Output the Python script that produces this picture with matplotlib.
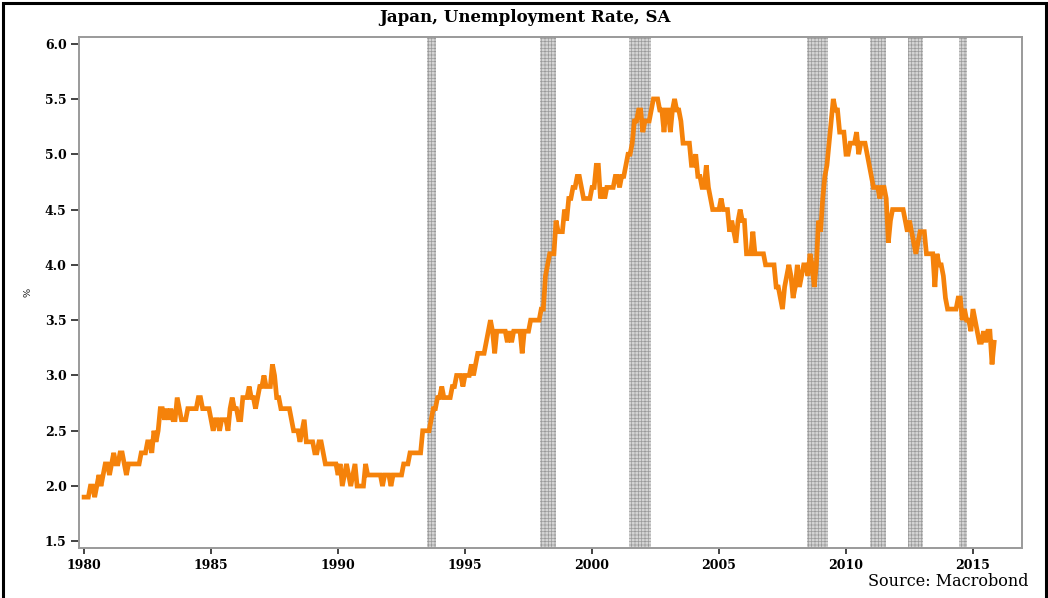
import numpy as np
import matplotlib
matplotlib.use("Agg")
import matplotlib.pyplot as plt
from matplotlib.patches import Rectangle

# ---------------- data (monthly, SA, %) ----------------
start_year = 1980
rate_1980 = [1.9, 1.9, 1.9, 2.0, 2.0, 1.9, 2.0, 2.1, 2.0, 2.1, 2.2, 2.2]
rate_1981 = [2.1, 2.2, 2.3, 2.2, 2.2, 2.3, 2.3, 2.2, 2.1, 2.2, 2.2, 2.2]
rate_1982 = [2.2, 2.2, 2.2, 2.3, 2.3, 2.3, 2.4, 2.4, 2.3, 2.5, 2.4, 2.5]
rate_1983 = [2.7, 2.7, 2.6, 2.7, 2.6, 2.7, 2.6, 2.6, 2.8, 2.7, 2.6, 2.6]
rate_1984 = [2.6, 2.7, 2.7, 2.7, 2.7, 2.7, 2.8, 2.8, 2.7, 2.7, 2.7, 2.7]
rate_1985 = [2.6, 2.5, 2.6, 2.6, 2.5, 2.6, 2.6, 2.6, 2.5, 2.7, 2.8, 2.7]
rate_1986 = [2.7, 2.6, 2.6, 2.8, 2.8, 2.8, 2.9, 2.8, 2.8, 2.7, 2.8, 2.9]
rate_1987 = [2.9, 3.0, 2.9, 2.9, 2.9, 3.1, 3.0, 2.8, 2.8, 2.7, 2.7, 2.7]
rate_1988 = [2.7, 2.7, 2.6, 2.5, 2.5, 2.5, 2.4, 2.5, 2.6, 2.4, 2.4, 2.4]
rate_1989 = [2.4, 2.3, 2.3, 2.4, 2.4, 2.3, 2.2, 2.2, 2.2, 2.2, 2.2, 2.2]
rate_1990 = [2.1, 2.2, 2.0, 2.1, 2.2, 2.1, 2.0, 2.1, 2.2, 2.0, 2.0, 2.0]
rate_1991 = [2.0, 2.2, 2.1, 2.1, 2.1, 2.1, 2.1, 2.1, 2.1, 2.0, 2.1, 2.1]
rate_1992 = [2.1, 2.0, 2.1, 2.1, 2.1, 2.1, 2.1, 2.2, 2.2, 2.2, 2.3, 2.3]
rate_1993 = [2.3, 2.3, 2.3, 2.3, 2.5, 2.5, 2.5, 2.5, 2.6, 2.7, 2.7, 2.8]
rate_1994 = [2.8, 2.9, 2.8, 2.8, 2.8, 2.8, 2.9, 2.9, 3.0, 3.0, 3.0, 2.9]
rate_1995 = [3.0, 3.0, 3.0, 3.1, 3.0, 3.1, 3.2, 3.2, 3.2, 3.2, 3.3, 3.4]
rate_1996 = [3.5, 3.4, 3.2, 3.4, 3.4, 3.4, 3.4, 3.4, 3.3, 3.4, 3.3, 3.4]
rate_1997 = [3.4, 3.4, 3.4, 3.2, 3.4, 3.4, 3.4, 3.5, 3.5, 3.5, 3.5, 3.5]
rate_1998 = [3.6, 3.6, 3.9, 4.0, 4.1, 4.1, 4.1, 4.4, 4.3, 4.3, 4.3, 4.5]
rate_1999 = [4.4, 4.6, 4.6, 4.7, 4.7, 4.8, 4.8, 4.7, 4.6, 4.6, 4.6, 4.6]
rate_2000 = [4.7, 4.7, 4.9, 4.9, 4.6, 4.7, 4.6, 4.7, 4.7, 4.7, 4.7, 4.8]
rate_2001 = [4.8, 4.7, 4.8, 4.8, 4.9, 5.0, 5.0, 5.1, 5.3, 5.3, 5.4, 5.4]
rate_2002 = [5.2, 5.3, 5.3, 5.3, 5.4, 5.5, 5.5, 5.5, 5.4, 5.4, 5.2, 5.4]
rate_2003 = [5.4, 5.2, 5.4, 5.5, 5.4, 5.4, 5.3, 5.1, 5.1, 5.1, 5.1, 4.9]
rate_2004 = [4.9, 5.0, 4.8, 4.8, 4.7, 4.7, 4.9, 4.7, 4.6, 4.5, 4.5, 4.5]
rate_2005 = [4.5, 4.6, 4.5, 4.5, 4.5, 4.3, 4.4, 4.3, 4.2, 4.4, 4.5, 4.4]
rate_2006 = [4.4, 4.1, 4.1, 4.1, 4.3, 4.1, 4.1, 4.1, 4.1, 4.1, 4.0, 4.0]
rate_2007 = [4.0, 4.0, 4.0, 3.8, 3.8, 3.7, 3.6, 3.8, 3.9, 4.0, 3.9, 3.7]
rate_2008 = [3.8, 4.0, 3.8, 3.9, 4.0, 4.0, 3.9, 4.1, 4.0, 3.8, 4.0, 4.4]
rate_2009 = [4.3, 4.6, 4.8, 4.9, 5.1, 5.3, 5.5, 5.4, 5.4, 5.2, 5.2, 5.2]
rate_2010 = [5.0, 5.0, 5.1, 5.1, 5.1, 5.2, 5.0, 5.1, 5.1, 5.1, 5.0, 4.9]
rate_2011 = [4.8, 4.7, 4.7, 4.7, 4.6, 4.7, 4.7, 4.6, 4.2, 4.4, 4.5, 4.5]
rate_2012 = [4.5, 4.5, 4.5, 4.5, 4.4, 4.3, 4.4, 4.3, 4.2, 4.1, 4.2, 4.3]
rate_2013 = [4.3, 4.3, 4.1, 4.1, 4.1, 4.1, 3.8, 4.1, 4.0, 4.0, 3.9, 3.7]
rate_2014 = [3.6, 3.6, 3.6, 3.6, 3.6, 3.7, 3.7, 3.5, 3.6, 3.5, 3.5, 3.4]
rate_2015 = [3.6, 3.5, 3.4, 3.3, 3.3, 3.4, 3.3, 3.4, 3.4, 3.1, 3.3]

rates = (rate_1980 + rate_1981 + rate_1982 + rate_1983 + rate_1984 + rate_1985 +
         rate_1986 + rate_1987 + rate_1988 + rate_1989 + rate_1990 + rate_1991 +
         rate_1992 + rate_1993 + rate_1994 + rate_1995 + rate_1996 + rate_1997 +
         rate_1998 + rate_1999 + rate_2000 + rate_2001 + rate_2002 + rate_2003 +
         rate_2004 + rate_2005 + rate_2006 + rate_2007 + rate_2008 + rate_2009 +
         rate_2010 + rate_2011 + rate_2012 + rate_2013 + rate_2014 + rate_2015)

# recession periods (fractional years)
recession_start = [1993.50, 1997.95, 2001.46, 2008.46, 2010.94, 2012.44, 2014.45]
recession_end = [1993.86, 1998.58, 2002.32, 2009.29, 2011.57, 2013.03, 2014.76]

x_ticks = [1980, 1985, 1990, 1995, 2000, 2005, 2010, 2015]
y_ticks = [1.5, 2.0, 2.5, 3.0, 3.5, 4.0, 4.5, 5.0, 5.5, 6.0]

title = "Japan, Unemployment Rate, SA"
source = "Source: Macrobond"

# ---------------- plot ----------------
plt.rcParams['font.family'] = ['DejaVu Serif']
plt.rcParams['hatch.linewidth'] = 0.5

fig = plt.figure(figsize=(10.48, 5.98), dpi=100)
ax = fig.add_axes([79 / 1048, 1 - 548 / 598, (1022 - 79) / 1048, (548 - 37) / 598])

years = start_year + np.arange(len(rates)) / 12.0

for s, e in zip(recession_start, recession_end):
    ax.axvspan(s, e, facecolor='#d4d4d4', edgecolor='#9a9a9a', hatch='+++++',
               linewidth=0, zorder=1)

ax.plot(years, rates, color='#F5820A', linewidth=3.4, solid_joinstyle='miter', zorder=3)

ax.set_xlim(1979.8, 2016.93)
ax.set_ylim(1.44, 6.06)
ax.set_xticks(x_ticks)
ax.set_yticks(y_ticks)
ax.set_xticklabels([str(t) for t in x_ticks], fontsize=9, fontweight='bold')
ax.set_yticklabels([f"{t:.1f}" for t in y_ticks], fontsize=9, fontweight='bold')
ax.tick_params(axis='y', length=6, width=1.2, color='#222222', pad=3)
ax.tick_params(axis='x', length=4, width=1.2, color='#222222', pad=4)

for sp in ax.spines.values():
    sp.set_color('#9a9a9a')
    sp.set_linewidth(1.4)

ax.set_ylabel('%', fontsize=7, rotation=90, labelpad=9)

fig.text(0.501, 0.970, title, ha='center', va='center', fontsize=12, fontweight='bold')
fig.text(1028 / 1048, 1 - 582 / 598, source, ha='right', va='center', fontsize=11.5)

# figure frame (left, top, right black border)
fig.add_artist(Rectangle((3 / 1048, -0.05), (1046 - 3) / 1048, 1.05 - 3 / 598 + 0.0,
                         transform=fig.transFigure, fill=False, edgecolor='black',
                         linewidth=2.2, zorder=10))

fig.savefig('out.png', dpi=100)
